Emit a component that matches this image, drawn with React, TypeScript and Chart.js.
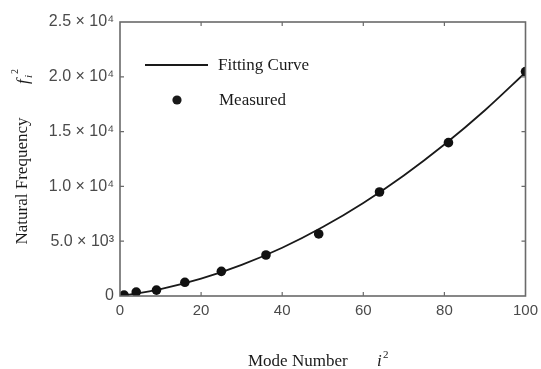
import React, { useEffect, useRef } from "react";
import { Chart, registerables } from "chart.js";

Chart.register(...registerables);

const measuredX = [1, 4, 9, 16, 25, 36, 49, 64, 81, 100];
const measuredY = [80, 360, 540, 1250, 2250, 3740, 5660, 9490, 13990, 20480];

const curveX = [0, 10, 20, 30, 40, 50, 60, 70, 80, 90, 100];
const curveY = [0, 630, 1580, 2840, 4400, 6290, 8490, 11000, 13820, 16950, 20400];

const xTicks = [0, 20, 40, 60, 80, 100];
const yTickValues = [0, 5000, 10000, 15000, 20000, 25000];
const yTickLabels = ["0", "5.0 × 10³", "1.0 × 10⁴", "1.5 × 10⁴", "2.0 × 10⁴", "2.5 × 10⁴"];

const legendLabels = ["Fitting Curve", "Measured"];
const xTitle = "Mode Number";
const yTitle = "Natural Frequency";

const SERIF = "'Liberation Serif', 'DejaVu Serif', serif";
const SANS = "'Liberation Sans', 'DejaVu Sans', sans-serif";

const decorPlugin = {
  id: "decor",
  afterDraw(chart: any) {
    const { ctx, chartArea } = chart;
    const { left, right, top, bottom } = chartArea;
    const xs = chart.scales.x;
    const ys = chart.scales.y;
    ctx.save();
    // frame
    ctx.strokeStyle = "#6a6a6a";
    ctx.lineWidth = 1.6;
    ctx.strokeRect(left, top, right - left, bottom - top);
    // inward ticks
    ctx.lineWidth = 1.2;
    const tl = 4;
    xTicks.forEach((v) => {
      if (v === 0 || v === 100) return;
      const px = xs.getPixelForValue(v);
      ctx.beginPath();
      ctx.moveTo(px, bottom);
      ctx.lineTo(px, bottom - tl);
      ctx.moveTo(px, top);
      ctx.lineTo(px, top + tl);
      ctx.stroke();
    });
    yTickValues.forEach((v) => {
      if (v === 0 || v === 25000) return;
      const py = ys.getPixelForValue(v);
      ctx.beginPath();
      ctx.moveTo(left, py);
      ctx.lineTo(left + tl, py);
      ctx.moveTo(right, py);
      ctx.lineTo(right - tl, py);
      ctx.stroke();
    });

    // legend
    ctx.fillStyle = "#1a1a1a";
    ctx.strokeStyle = "#1a1a1a";
    ctx.lineWidth = 1.8;
    ctx.beginPath();
    ctx.moveTo(145, 65);
    ctx.lineTo(208, 65);
    ctx.stroke();
    ctx.font = `17px ${SERIF}`;
    ctx.textBaseline = "middle";
    ctx.textAlign = "left";
    ctx.fillText(legendLabels[0], 218, 66);
    ctx.beginPath();
    ctx.arc(177, 100, 4.6, 0, Math.PI * 2);
    ctx.fill();
    ctx.fillText(legendLabels[1], 219, 101);

    // x title
    ctx.textBaseline = "alphabetic";
    ctx.font = `17px ${SERIF}`;
    ctx.fillText(xTitle, 248, 366);
    ctx.font = `italic 17px ${SERIF}`;
    ctx.fillText("i", 377, 366);
    ctx.font = `11px ${SERIF}`;
    ctx.fillText("2", 383, 358);

    // y title
    ctx.save();
    ctx.translate(27, 181);
    ctx.rotate(-Math.PI / 2);
    ctx.font = `17px ${SERIF}`;
    ctx.textAlign = "center";
    ctx.fillText(yTitle, 0, 0);
    ctx.restore();

    ctx.save();
    ctx.translate(28, 84);
    ctx.rotate(-Math.PI / 2);
    ctx.textAlign = "left";
    ctx.font = `italic 17px ${SERIF}`;
    ctx.fillText("f", 0, 0);
    ctx.font = `italic 11px ${SERIF}`;
    ctx.fillText("i", 6, 4);
    ctx.font = `10px ${SERIF}`;
    ctx.fillText("2", 10, -10);
    ctx.restore();

    ctx.restore();
  },
};

export default function App() {
  const canvasRef = useRef<HTMLCanvasElement | null>(null);

  useEffect(() => {
    document.body.style.margin = "0";
    const canvas = canvasRef.current;
    if (!canvas) return;
    const chart = new Chart(canvas, {
      type: "scatter",
      data: {
        datasets: [
          {
            label: legendLabels[0],
            data: curveX.map((x, i) => ({ x, y: curveY[i] })),
            showLine: true,
            borderColor: "#1a1a1a",
            borderWidth: 1.8,
            pointRadius: 0,
            cubicInterpolationMode: "monotone",
            order: 2,
          } as any,
          {
            label: legendLabels[1],
            data: measuredX.map((x, i) => ({ x, y: measuredY[i] })),
            showLine: false,
            backgroundColor: "#111",
            borderColor: "#111",
            pointRadius: 4.8,
            pointBorderWidth: 0,
            order: 1,
          },
        ],
      },
      options: {
        animation: false,
        responsive: true,
        maintainAspectRatio: false,
        layout: { padding: { top: 22, right: 15.5, left: 0, bottom: 0 } },
        plugins: {
          legend: { display: false },
          tooltip: { enabled: false },
        },
        scales: {
          x: {
            type: "linear",
            min: 0,
            max: 100,
            afterBuildTicks: (scale: any) => {
              scale.ticks = xTicks.map((v) => ({ value: v }));
            },
            afterFit: (scale: any) => {
              scale.height = 73;
              scale.paddingLeft = 0;
              scale.paddingRight = 0;
            },
            grid: { display: false, drawTicks: false },
            border: { display: false },
            ticks: {
              padding: 6,
              color: "#4a4a4a",
              font: { family: SANS, size: 15 },
              maxRotation: 0,
              autoSkip: false,
              callback: (v: any) => String(v),
            },
          },
          y: {
            type: "linear",
            min: 0,
            max: 25000,
            afterBuildTicks: (scale: any) => {
              scale.ticks = yTickValues.map((v) => ({ value: v }));
            },
            afterFit: (scale: any) => {
              scale.width = 120;
              scale.paddingTop = 0;
              scale.paddingBottom = 0;
            },
            grid: { display: false, drawTicks: false },
            border: { display: false },
            ticks: {
              padding: 6,
              color: "#4a4a4a",
              font: { family: SANS, size: 16 },
              autoSkip: false,
              callback: (v: any) => {
                const idx = yTickValues.indexOf(Number(v));
                return idx >= 0 ? yTickLabels[idx] : "";
              },
            },
          },
        },
      },
      plugins: [decorPlugin],
    });
    return () => chart.destroy();
  }, []);

  return (
    <div style={{ position: "relative", width: 541, height: 369, background: "#fff" }}>
      <canvas ref={canvasRef} />
    </div>
  );
}
